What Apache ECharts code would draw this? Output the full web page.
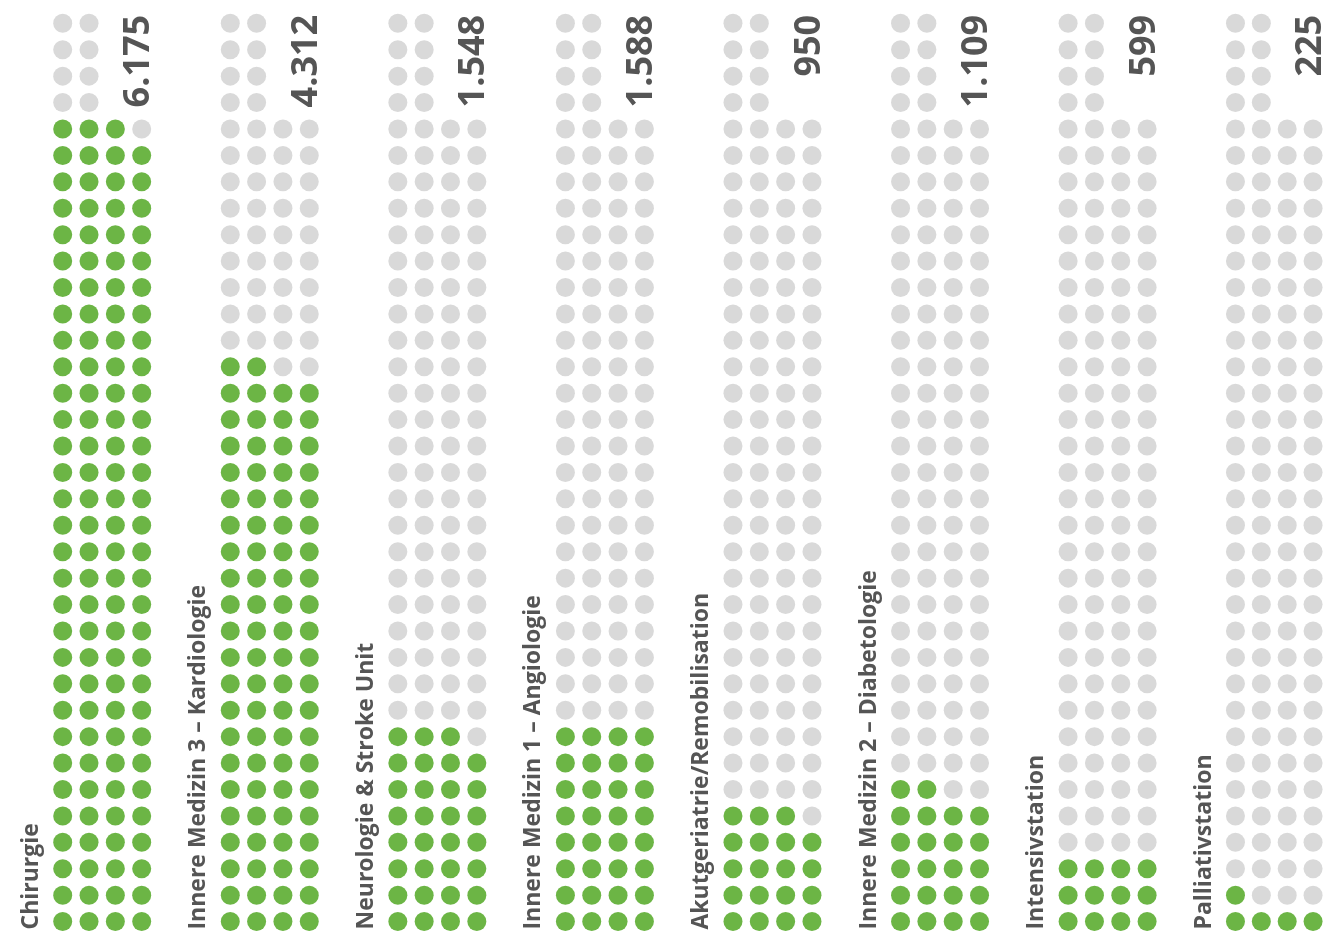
<!DOCTYPE html>
<html>
<head>
<meta charset="utf-8">
<script src="https://cdn.jsdelivr.net/npm/echarts@6/dist/echarts.min.js"></script>
<style>
html,body{margin:0;padding:0;background:#fff;}
#chart{width:1326px;height:935px;}
</style>
</head>
<body>
<div id="chart"></div>
<script>
// ---- data ----
const categories = [
  'Chirurgie',
  'Innere Medizin 3 – Kardiologie',
  'Neurologie & Stroke Unit',
  'Innere Medizin 1 – Angiologie',
  'Akutgeriatrie/Remobilisation',
  'Innere Medizin 2 – Diabetologie',
  'Intensivstation',
  'Palliativstation'
];
const values = [6175, 4312, 1548, 1588, 950, 1109, 599, 225];
const valueLabels = ['6.175', '4.312', '1.548', '1.588', '950', '1.109', '599', '225'];
// green dots counted in the picture (about one dot per 50 cases)
const dotCounts = [123, 86, 31, 32, 19, 22, 12, 5];
const gridRows = 35;        // rows of dots per column
const gridCols = 4;         // dots per row
const reservedRows = 4;     // top rows that only hold 2 dots (label space)

// ---- layout / style ----
const GREEN = '#6cb545';
const GRAY = '#d9d9d9';
const TEXT = '#555555';
const dotX0 = 62.7, colStep = 167.57, dotStep = 26.33;
const rowTop = 10.1, rowH = 26.42;

const chart = echarts.init(document.getElementById('chart'), null, {renderer: 'canvas'});
const grids = [], xAxes = [], yAxes = [], series = [];

categories.forEach((cat, i) => {
  grids.push({
    left: dotX0 - dotStep / 2 + colStep * i,
    width: dotStep * gridCols,
    top: rowTop,
    height: rowH * gridRows
  });
  xAxes.push({type: 'value', gridIndex: i, min: -0.5, max: gridCols - 0.5, show: false});
  yAxes.push({type: 'value', gridIndex: i, min: -0.5, max: gridRows - 0.5, show: false});

  const nGreen = dotCounts[i];
  const dots = [];
  let k = 0;
  for (let r = 0; r < gridRows; r++) {
    const cols = r >= gridRows - reservedRows ? 2 : gridCols;
    for (let j = 0; j < cols; j++) {
      dots.push({value: [j, r], itemStyle: {color: k < nGreen ? GREEN : GRAY, opacity: 1}});
      k++;
    }
  }
  series.push({
    type: 'scatter', xAxisIndex: i, yAxisIndex: i,
    symbol: 'circle', symbolSize: 19, silent: true, clip: false,
    itemStyle: {opacity: 1},
    data: dots
  });
  series.push({
    type: 'scatter', xAxisIndex: i, yAxisIndex: i,
    symbolSize: 0, silent: true, clip: false,
    itemStyle: {opacity: 1},
    data: [
      {value: [2.9, 34.32], label: {
        show: true, position: 'inside', rotate: 90, align: 'right', verticalAlign: 'middle',
        formatter: valueLabels[i], color: TEXT, fontFamily: 'Open Sans', fontWeight: 'bold', fontSize: 36
      }},
      {value: [-1.2, -0.3], label: {
        show: true, position: 'inside', rotate: 90, align: 'left', verticalAlign: 'middle',
        formatter: cat, color: TEXT, fontFamily: 'Open Sans', fontWeight: 'bold', fontSize: 23
      }}
    ]
  });
});

chart.setOption({
  animation: false,
  backgroundColor: '#ffffff',
  grid: grids, xAxis: xAxes, yAxis: yAxes, series: series
});
</script>
</body>
</html>
